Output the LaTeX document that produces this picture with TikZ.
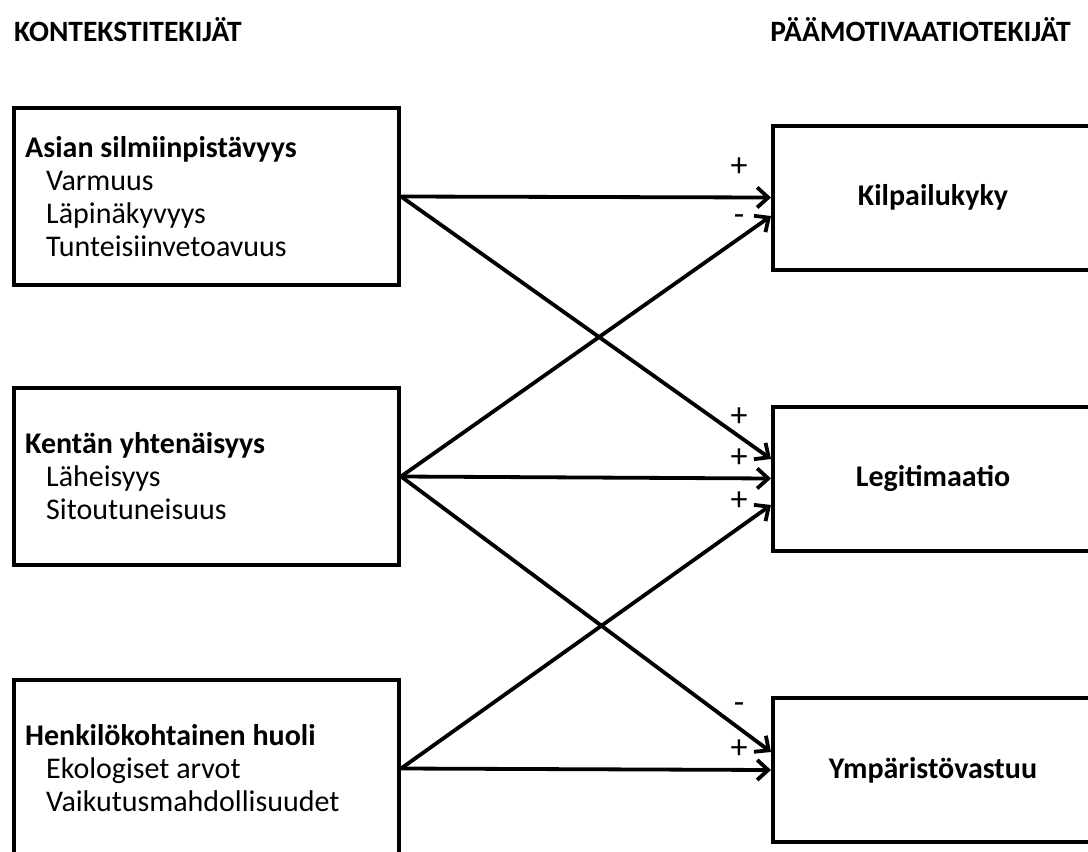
\documentclass[tikz,border=0pt]{standalone}
\usepackage{fontspec}
\setmainfont{Carlito}
\usetikzlibrary{arrows.meta}

\begin{document}
\begin{tikzpicture}[x=1pt, y=-1pt, every node/.style={font=\fontsize{30}{33}\selectfont},
  laatikko/.style={draw, line width=4pt, anchor=north west, inner sep=0pt, minimum width=385pt, minimum height=177pt},
  tavoite/.style={draw, line width=4pt, anchor=north west, inner sep=0pt, minimum width=320pt, minimum height=144pt, font=\fontsize{30}{33}\selectfont\bfseries},
  nuoli/.style={line width=3.8pt, -{Straight Barb[length=11pt,width=20pt,line width=3.8pt]}},
  otsikko/.style={font=\fontsize{29.5}{30}\selectfont\bfseries, inner sep=0pt},
  merkki/.style={inner sep=0pt, font=\fontsize{34}{34}\selectfont}]
  \useasboundingbox (0,0) rectangle (1088,852);
  \clip (0,0) rectangle (1088,852);

  % Otsikot
  \node[otsikko, anchor=west] (konteksti) at (14,30) {KONTEKSTITEKIJÄT};
  \node[otsikko, anchor=east] (paamotiivi) at (1071,30) {PÄÄMOTIVAATIOTEKIJÄT};

  % Kontekstitekijät
  \node[laatikko] (asia) at (12,106) {};
  \node[anchor=west, align=left, inner sep=0pt] (asiateksti) at ([xshift=13pt]asia.west)
    {\textbf{Asian silmiinpistävyys}\\\hspace*{21pt}Varmuus\\\hspace*{21pt}Läpinäkyvyys\\\hspace*{21pt}Tunteisiinvetoavuus};
  \node[laatikko] (kentta) at (12,386) {};
  \node[anchor=west, align=left, inner sep=0pt] (kenttateksti) at ([xshift=13pt]kentta.west)
    {\textbf{Kentän yhtenäisyys}\\\hspace*{21pt}Läheisyys\\\hspace*{21pt}Sitoutuneisuus};
  \node[laatikko] (huoli) at (12,678) {};
  \node[anchor=west, align=left, inner sep=0pt] (huoliteksti) at ([xshift=13pt]huoli.west)
    {\textbf{Henkilökohtainen huoli}\\\hspace*{21pt}Ekologiset arvot\\\hspace*{21pt}Vaikutusmahdollisuudet};

  % Päämotivaatiotekijät
  \node[tavoite] (kilpailu) at (771,123.5) {Kilpailukyky};
  \node[tavoite] (legit) at (771,404.5) {Legitimaatio};
  \node[tavoite] (ymparisto) at (771,696) {Ympäristövastuu};

  % Nuolet
  \draw[nuoli] (asia.east) -- (kilpailu.west);
  \draw[nuoli] (asia.east) -- ([yshift=19.5pt]legit.west);
  \draw[nuoli] (kentta.east) -- ([yshift=-18.5pt]kilpailu.west);
  \draw[nuoli] (kentta.east) -- (legit.west);
  \draw[nuoli] (kentta.east) -- ([yshift=18pt]ymparisto.west);
  \draw[nuoli] (huoli.east) -- ([yshift=-26.5pt]legit.west);
  \draw[nuoli] (huoli.east) -- (ymparisto.west);

  % Etumerkit
  \node[merkki] (k1) at ([xshift=-32pt, yshift=30.5pt]kilpailu.west) {+};
  \node[merkki] (k2) at ([xshift=-32pt, yshift=-22.5pt]kilpailu.west) {-};
  \node[merkki] (l1) at ([xshift=-32pt, yshift=61.5pt]legit.west) {+};
  \node[merkki] (l2) at ([xshift=-32pt, yshift=20.5pt]legit.west) {+};
  \node[merkki] (l3) at ([xshift=-32pt, yshift=-22.5pt]legit.west) {+};
  \node[merkki] (y1) at ([xshift=-32pt, yshift=62pt]ymparisto.west) {-};
  \node[merkki] (y2) at ([xshift=-32pt, yshift=21pt]ymparisto.west) {+};
\end{tikzpicture}
\end{document}
